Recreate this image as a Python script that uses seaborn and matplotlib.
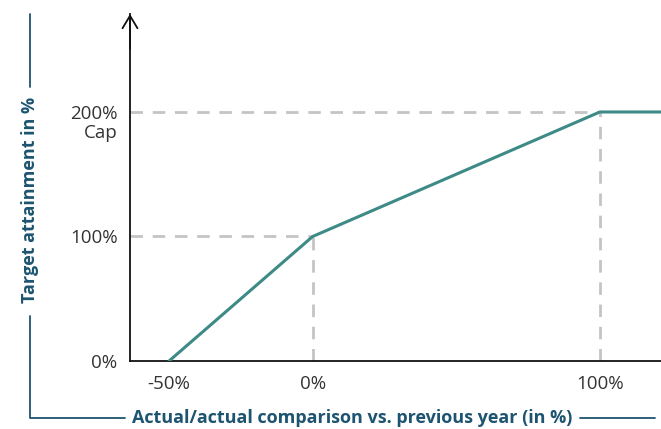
import matplotlib
matplotlib.use("Agg")
import matplotlib.pyplot as plt
from matplotlib.lines import Line2D
import seaborn as sns
import pandas as pd

# Target attainment curve: actual/actual comparison vs. target attainment
growth_pct = [-50, 0, 100, 125]
attainment_pct = [0, 100, 200, 200]

x_ticks = [-50, 0, 100]
x_tick_labels = ["-50%", "0%", "100%"]
y_ticks = [0, 100, 200]
y_tick_labels = ["0%", "100%", "200%"]

LINE_COLOR = "#3d8a86"
TITLE_COLOR = "#1d5470"
GRID_COLOR = "#c4c4c4"
TEXT_COLOR = "#333333"
FONT = ["Open Sans", "DejaVu Sans"]

sns.set_theme(style="white")
plt.rcParams["font.family"] = FONT

W, H = 661, 429
fig = plt.figure(figsize=(W / 100, H / 100), dpi=100)
ax = fig.add_axes([130 / W, (H - 361) / H, 531 / W, (361 - 14) / H])

x_min, x_max = -63.6, 121.3
y_min, y_max = 0, 278.7
ax.set_xlim(x_min, x_max)
ax.set_ylim(y_min, y_max)

# guide lines from the axes to the breakpoints
dash = dict(color=GRID_COLOR, lw=2, dashes=(4.5, 3.5), zorder=1)
ax.plot([x_min, 0], [100, 100], **dash)
ax.plot([x_min, 100], [200, 200], **dash)
ax.plot([0, 0], [0, 100], **dash)
ax.plot([100, 100], [0, 200], **dash)

df = pd.DataFrame({"growth": growth_pct, "attainment": attainment_pct})
sns.lineplot(data=df, x="growth", y="attainment", ax=ax, color=LINE_COLOR,
             lw=2.2, zorder=3)

for side in ("top", "right"):
    ax.spines[side].set_visible(False)
for side in ("left", "bottom"):
    ax.spines[side].set_color("#111111")
    ax.spines[side].set_linewidth(1.3)

ax.set_xticks(x_ticks)
ax.set_xticklabels(x_tick_labels)
ax.set_yticks(y_ticks)
ax.set_yticklabels(y_tick_labels)
ax.tick_params(axis="both", length=0, labelsize=13.5, colors=TEXT_COLOR)
ax.tick_params(axis="y", pad=9)
ax.tick_params(axis="x", pad=10)
ax.set_xlabel("")
ax.set_ylabel("")

# "Cap" note under the 200% label
ax.text(-0.023, 200 - 10, "Cap", transform=ax.get_yaxis_transform(),
        ha="right", va="top", fontsize=13.5, color=TEXT_COLOR)

# arrow head on the vertical axis
ax.annotate("", xy=(0, 1.0), xytext=(0, 0.9), xycoords="axes fraction",
            arrowprops=dict(arrowstyle="->,head_length=0.75,head_width=0.45",
                            color="#111111", lw=1.3, shrinkA=0, shrinkB=0),
            annotation_clip=False)

# axis titles with bracket lines
fig.text(30 / W, 1 - 200 / H, "Target attainment in %", rotation=90,
         ha="center", va="center", fontsize=13, fontweight="bold",
         color=TITLE_COLOR)
fig.text(352 / W, 1 - 418 / H, "Actual/actual comparison vs. previous year (in %)",
         ha="center", va="center", fontsize=13, fontweight="bold",
         color=TITLE_COLOR)

def fig_line(xs, ys):
    fig.add_artist(Line2D([x / W for x in xs], [1 - y / H for y in ys],
                          color=TITLE_COLOR, lw=1.3))

fig_line([30, 30], [14, 87])
fig_line([30, 30, 125], [316, 418, 418])
fig_line([580, 655], [418, 418])

fig.savefig("out.png", dpi=100)
